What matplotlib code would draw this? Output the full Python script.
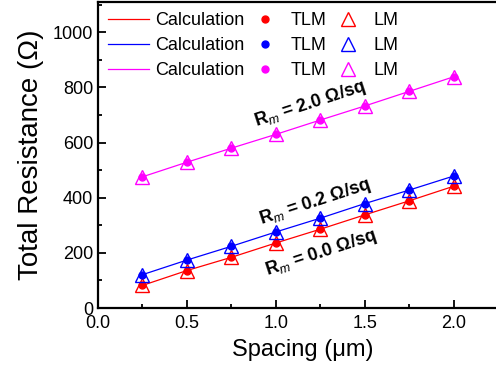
import matplotlib
matplotlib.use("Agg")
import matplotlib.pyplot as plt
from matplotlib.ticker import MultipleLocator, FormatStrFormatter

plt.rcParams["font.family"] = ["Liberation Sans", "DejaVu Sans"]
plt.rcParams["mathtext.fontset"] = "custom"
plt.rcParams["mathtext.rm"] = "Liberation Sans"
plt.rcParams["mathtext.it"] = "Liberation Sans:italic"
plt.rcParams["mathtext.bf"] = "Liberation Sans:bold"

# ---------------- data ----------------
spacing = [0.25, 0.5, 0.75, 1.0, 1.25, 1.5, 1.75, 2.0]
r_m00 = [82, 136, 184, 236, 286, 338, 389, 442]
r_m02 = [121, 174, 224, 276, 326, 379, 428, 479]
r_m20 = [476, 529, 580, 630, 682, 733, 786, 839]

series = [r_m00, r_m02, r_m20]
colors = ["#ff0000", "#0000ff", "#ff00ff"]
labels = ["$\\mathbf{R_{\\mathit{m}}}$ = 0.0 Ω/sq",
          "$\\mathbf{R_{\\mathit{m}}}$ = 0.2 Ω/sq",
          "$\\mathbf{R_{\\mathit{m}}}$ = 2.0 Ω/sq"]
label_pos = [(1.25, 198), (1.22, 386), (1.19, 740)]

fig = plt.figure(figsize=(4.96, 3.68), dpi=100)
ax = fig.add_axes([0.1976, 0.163, 0.825, 0.8315])

calc_h, tlm_h, lm_h = [], [], []
for ys, c in zip(series, colors):
    ln, = ax.plot(spacing, ys, "-", color=c, lw=0.9)
    dt, = ax.plot(spacing, ys, "o", color=c, ms=5, ls="none")
    tr, = ax.plot(spacing, ys, "^", mfc="none", mec=c, mew=1.0, ms=10, ls="none")
    calc_h.append(ln)
    tlm_h.append(dt)
    lm_h.append(tr)

for txt, (x, y) in zip(labels, label_pos):
    ax.text(x, y, txt, rotation=18, ha="center", va="center",
            fontsize=13, fontweight="bold", rotation_mode="anchor")

ax.legend(calc_h + tlm_h + lm_h,
          ["Calculation"] * 3 + ["TLM"] * 3 + ["LM"] * 3,
          ncol=3, frameon=False, loc="upper left", fontsize=13,
          bbox_to_anchor=(0.0, 1.0), handlelength=2.3, handletextpad=0.3,
          columnspacing=0.0, labelspacing=0.45, borderaxespad=0.25,
          borderpad=0.3)

ax.set_xlim(0, 2.3)
ax.set_ylim(0, 1110)
ax.xaxis.set_major_locator(MultipleLocator(0.5))
ax.xaxis.set_minor_locator(MultipleLocator(0.25))
ax.yaxis.set_major_locator(MultipleLocator(200))
ax.yaxis.set_minor_locator(MultipleLocator(100))
ax.xaxis.set_major_formatter(FormatStrFormatter("%.1f"))
ax.tick_params(which="both", direction="in", top=False, right=False,
               labelsize=13, width=1.3)
ax.tick_params(which="major", length=6)
ax.tick_params(which="minor", length=3)
ax.tick_params(axis="x", pad=5)
for s in ax.spines.values():
    s.set_linewidth(1.6)

ax.set_xlabel("Spacing (μm)", fontsize=17, labelpad=5)
ax.set_ylabel("Total Resistance (Ω)", fontsize=20, labelpad=6)

fig.savefig("out.png", dpi=100)
